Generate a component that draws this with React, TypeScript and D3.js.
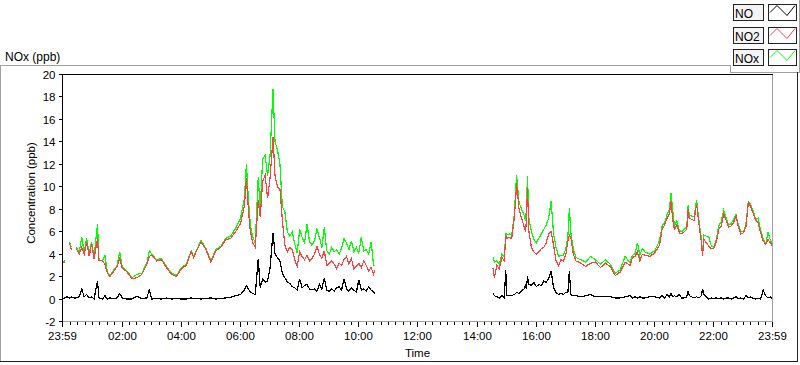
import React, { useEffect, useRef } from "react";
import * as d3 from "d3";

// minutes since midnight, -1 = 23:59 of the day before, 1439 = 23:59
const timesAM = [
  -1, 4, 8, 13, 17, 22, 27, 33, 38, 43, 48, 53, 58, 63, 70, 73, 80, 85, 90, 95,
  100, 110, 115, 120, 130, 140, 150, 160, 170, 175, 180, 190, 200, 210, 220, 230,
  240, 250, 260, 265, 270, 280, 290, 300, 310, 320, 330, 340, 350, 360, 368, 372,
  376, 380, 385, 390, 396, 400, 405, 410, 415, 420, 426, 430, 435, 440, 445, 450,
  455, 460, 465, 470, 475, 480, 485, 490, 495, 500, 505, 510, 515, 520, 525, 530,
  535, 540, 545, 550, 555, 560, 565, 570, 575, 580, 585, 590, 595, 600, 605, 610,
  615, 620, 625, 630, 632,
];
const noAM = [
  0.0, 0.1, 0.2, 0.1, 0.2, 0.1, 0.1, 0.2, 0.9, 0.2, 0.4, 0.1, 0.2, 0.0, 1.6, 0.1, 0.0, 0.3, 0.0, 0.1,
  0.05, 0.1, 0.5, 0.1, 0.0, 0.0, 0.25, 0.05, 0.1, 0.8, 0.0, 0.05, 0.0, 0.1, 0.0, 0.05,
  0.0, 0.0, 0.1, 0.05, 0.05, 0.0, 0.05, 0.1, 0.0, 0.05, 0.1, 0.15, 0.3, 0.4, 0.8, 1.2,
  0.9, 0.6, 0.5, 0.4, 3.6, 1.0, 1.8, 1.5, 1.6, 2.8, 5.9, 4.0, 3.7, 3.4, 2.3, 1.9,
  1.5, 1.4, 1.1, 1.0, 0.8, 1.8, 1.0, 1.2, 1.3, 0.9, 0.8, 0.9, 0.7, 1.3, 0.9, 1.9,
  0.8, 0.7, 0.9, 0.7, 1.0, 1.1, 0.8, 1.8, 0.9, 0.7, 1.0, 0.8, 0.6, 1.7, 0.8, 0.9,
  0.7, 1.1, 0.8, 0.6, 0.5,
];
const no2AM = [
  3.2, 3.3, null, 5.0, 4.4, null, 4.5, 4.0, 4.6, 4.0, 5.1, 3.8, 4.9, 3.6, 5.4, 3.4, 3.4, 3.1, 2.3, 2.0,
  2.3, 2.9, 3.6, 2.8, 2.4, 1.8, 1.9, 2.2, 3.1, 3.8, 3.9, 3.4, 3.5, 2.8, 2.2, 2.0,
  2.7, 3.0, 4.2, 3.7, 4.2, 5.1, 4.4, 3.3, 4.3, 4.6, 5.3, 5.4, 6.0, 6.7, 8.3, 10.8,
  8.0, 6.0, 5.0, 4.6, 8.8, 7.3, 10.5, 11.0, 9.0, 10.8, 14.4, 11.0, 10.0, 9.8, 7.0, 4.8,
  4.2, 4.6, 4.4, 3.5, 2.9, 4.2, 3.8, 3.5, 3.9, 3.4, 3.6, 4.0, 4.7, 4.0, 3.6, 4.3,
  3.0, 3.2, 3.4, 3.1, 2.7, 3.2, 3.0, 3.5, 3.8, 3.1, 3.6, 2.7, 2.9, 3.2, 2.8, 3.4,
  3.0, 2.5, 2.8, 2.2, 2.6,
];
const noxAM = [
  3.3, 3.4, null, 5.1, 4.6, null, 4.6, 4.2, 5.5, 4.2, 5.4, 4.0, 5.1, 3.7, 6.7, 3.5, 3.4, 3.9, 2.4, 2.1,
  2.4, 3.0, 4.2, 2.9, 2.5, 1.9, 2.2, 2.3, 3.2, 4.3, 4.0, 3.5, 3.6, 2.9, 2.3, 2.1,
  2.8, 3.1, 4.3, 3.8, 4.3, 5.2, 4.5, 3.4, 4.4, 4.7, 5.4, 5.6, 6.3, 7.2, 9.0, 12.0,
  8.9, 6.6, 5.5, 5.0, 10.9, 8.0, 12.5, 12.8, 11.0, 12.8, 18.7, 14.0, 13.3, 12.0, 8.2, 7.8,
  6.0, 5.6, 6.0, 4.9, 4.1, 6.2, 5.5, 5.0, 6.7, 5.1, 4.8, 5.2, 6.2, 5.5, 4.6, 6.4,
  4.3, 4.0, 4.6, 4.2, 4.4, 4.0, 4.5, 5.4, 5.0, 4.4, 5.2, 4.2, 4.6, 4.1, 5.5, 4.3,
  4.4, 4.0, 5.1, 3.0, 3.0,
];

const timesPM = [
  872, 875, 880, 885, 890, 895, 898, 900, 905, 910, 915, 918, 920, 925, 930, 935, 938, 940, 942, 945,
  950, 955, 960, 965, 970, 975, 980, 985, 990, 995, 1000, 1005, 1010, 1015, 1020, 1024, 1027, 1030,
  1035, 1040, 1050, 1060, 1070, 1080, 1090, 1100, 1110, 1120, 1130, 1140, 1150, 1155, 1160, 1165,
  1170, 1175, 1180, 1190, 1200, 1210, 1215, 1220, 1225, 1230, 1233, 1237, 1240, 1245, 1250, 1255,
  1260, 1265, 1268, 1270, 1280, 1285, 1290, 1295, 1297, 1300, 1305, 1310, 1315, 1320, 1325, 1330,
  1335, 1340, 1345, 1350, 1355, 1360, 1365, 1370, 1375, 1380, 1385, 1390, 1395, 1400, 1405, 1410,
  1415, 1420, 1425, 1430, 1435, 1439,
];
const noPM = [
  0.5, 0.3, 0.2, 0.1, 0.3, 0.1, 2.6, 0.3, 0.3, 0.3, 0.4, 0.5, 0.6, 0.5, 0.7, 0.9, 1.2, 0.9, 2.0, 1.3,
  1.2, 1.5, 1.1, 1.3, 1.2, 1.6, 1.5, 1.8, 2.5, 1.0, 0.6, 0.4, 0.5, 0.4, 0.6, 0.6, 2.5, 0.4,
  0.3, 0.3, 0.2, 0.3, 0.4, 0.2, 0.2, 0.2, 0.2, 0.1, 0.1, 0.2, 0.3, 0.1, 0.2, 0.1,
  0.2, 0.1, 0.1, 0.2, 0.2, 0.1, 0.3, 0.1, 0.4, 0.2, 0.5, 0.2, 0.3, 0.2, 0.4, 0.1,
  0.1, 0.2, 0.7, 0.3, 0.1, 0.2, 0.1, 0.3, 0.9, 0.4, 0.2, 0.0, 0.1, 0.05, 0.1, 0.05,
  0.1, 0.0, 0.1, 0.1, 0.0, 0.1, 0.2, 0.05, 0.1, 0.0, 0.3, 0.1, 0.2, 0.05, 0.0, 0.05,
  0.0, 0.8, 0.3, 0.1, 0.2, 0.0,
];
const no2PM = [
  2.8, 1.9, 3.0, 2.7, 3.7, 3.4, 5.6, 5.4, 5.5, 5.4, 7.1, 8.8, 10.3, 8.0, 7.2, 6.5, 6.0, 7.0, 9.9, 6.0,
  4.6, 4.2, 4.0, 4.2, 4.5, 4.6, 5.0, 5.8, 6.0, 4.8, 3.4, 3.0, 3.5, 3.4, 4.0, 5.2, 5.7, 5.5,
  4.0, 3.4, 3.2, 2.9, 3.2, 3.3, 2.8, 3.2, 2.9, 2.1, 2.4, 3.3, 3.0, 3.7, 3.8, 4.2,
  3.4, 4.0, 3.9, 3.8, 4.1, 4.8, 6.2, 6.6, 7.2, 7.6, 8.7, 7.0, 6.2, 6.6, 5.9, 5.8,
  6.0, 6.2, 8.0, 7.2, 7.0, 8.5, 6.6, 5.0, 3.8, 5.3, 5.0, 4.7, 4.5, 4.5, 5.1, 6.2,
  6.5, 7.6, 7.0, 6.4, 6.5, 6.8, 7.4, 6.4, 5.8, 5.9, 6.4, 8.6, 8.2, 7.6, 7.0, 6.8,
  5.9, 5.2, 4.9, 5.3, 5.0, 4.7,
];
const noxPM = [
  3.7, 3.3, 3.4, 3.1, 4.0, 3.7, 5.9, 5.7, 5.8, 5.7, 7.4, 9.6, 11.0, 8.6, 8.0, 7.5, 7.0, 8.0, 11.0, 7.2,
  6.0, 5.3, 5.0, 5.4, 5.8, 6.2, 6.6, 7.2, 8.7, 5.8, 4.6, 3.8, 3.9, 3.9, 4.5, 5.6, 8.1, 5.9,
  4.5, 3.7, 3.5, 3.3, 3.8, 3.5, 3.1, 3.5, 3.1, 2.3, 2.6, 3.8, 3.2, 3.9, 4.0, 5.0,
  3.9, 4.5, 4.2, 4.0, 4.3, 5.2, 6.5, 6.8, 7.5, 8.0, 9.4, 7.8, 6.5, 7.0, 6.1, 6.0,
  6.2, 6.4, 8.4, 7.5, 7.3, 8.85, 6.9, 5.3, 4.2, 5.7, 5.6, 5.5, 4.7, 4.6, 5.3, 6.5,
  6.9, 7.9, 7.2, 6.6, 6.7, 7.1, 7.5, 6.6, 6.0, 6.0, 6.6, 8.7, 8.4, 7.8, 7.1, 7.2,
  6.1, 5.4, 4.9, 5.9, 5.2, 4.8,
];

const seriesNames = ["NO", "NO2", "NOx"];
const seriesColors = ["#000000", "#ff4040", "#00ff00"];

const yTicks = [-2, 0, 2, 4, 6, 8, 10, 12, 14, 16, 18, 20];
const xTickMinutes = [-1, 120, 240, 360, 480, 600, 720, 840, 960, 1080, 1200, 1320, 1439];
const xTickLabels = ["23:59", "02:00", "04:00", "06:00", "08:00", "10:00", "12:00", "14:00", "16:00", "18:00", "20:00", "22:00", "23:59"];

const FONT = "'Liberation Sans', Arial, sans-serif";

const App = () => {
  const ref = useRef<SVGSVGElement | null>(null);

  useEffect(() => {
    const width = 800;
    const height = 365;
    const plot = { left: 62.5, right: 772.5, top: 74.5, bottom: 321.5 };

    const svg = d3.select(ref.current);
    svg.selectAll("*").remove();
    svg.attr("width", width).attr("height", height);

    const x = d3.scaleLinear().domain([-1, 1439]).range([plot.left, plot.right]);
    const y = d3.scaleLinear().domain([-2, 20]).range([plot.bottom, plot.top]);

    svg.append("rect").attr("width", width).attr("height", height).attr("fill", "#fff");

    // outer panel border
    const frame = svg.append("g").attr("fill", "none").attr("shape-rendering", "crispEdges");
    frame.append("path").attr("d", "M0.5,362 V65.5 H730.5 V72.5 H800").attr("stroke", "#a0a0a0");
    frame.append("path").attr("d", "M799.5,0 V72").attr("stroke", "#a0a0a0");
    frame.append("path").attr("d", "M797.5,72 V361.5 H0").attr("stroke", "#222");

    svg
      .append("text")
      .attr("x", 5)
      .attr("y", 61)
      .attr("font-family", FONT)
      .attr("font-size", 12)
      .attr("fill", "#000")
      .text("NOx (ppb)");

    // plot area
    svg
      .append("rect")
      .attr("x", plot.left)
      .attr("y", plot.top)
      .attr("width", plot.right - plot.left)
      .attr("height", plot.bottom - plot.top)
      .attr("fill", "#fff");

    const clip = svg.append("clipPath").attr("id", "plotclip");
    clip
      .append("rect")
      .attr("x", plot.left)
      .attr("y", plot.top)
      .attr("width", plot.right - plot.left)
      .attr("height", plot.bottom - plot.top);

    const segments = [
      { t: timesAM, vals: [noAM, no2AM, noxAM] },
      { t: timesPM, vals: [noPM, no2PM, noxPM] },
    ];

    const line = d3
      .line<[number, number | null]>()
      .defined(d => d[1] != null)
      .x(d => x(d[0]))
      .y(d => y(d[1] as number));

    const lines = svg.append("g").attr("clip-path", "url(#plotclip)");
    // NOx underneath, then NO2, then NO
    [2, 1, 0].forEach(si => {
      segments.forEach(seg => {
        const pts = seg.t.map((t, i) => [t, seg.vals[si][i]] as [number, number | null]);
        lines
          .append("path")
          .attr("d", line(pts))
          .attr("fill", "none")
          .attr("stroke", seriesColors[si])
          .attr("stroke-width", 1.2)
          .attr("shape-rendering", "crispEdges");
      });
    });

    // plot frame: top/left black, right/bottom grey
    const pf = svg.append("g").attr("fill", "none").attr("shape-rendering", "crispEdges");
    pf.append("path")
      .attr("d", `M${plot.right},${plot.top} V${plot.bottom} H${plot.left}`)
      .attr("stroke", "#a0a0a0");
    pf.append("path")
      .attr("d", `M${plot.left},${plot.bottom} V${plot.top} H${plot.right}`)
      .attr("stroke", "#000");

    // y axis
    const yAxis = svg.append("g").attr("shape-rendering", "crispEdges");
    yTicks.forEach(v => {
      const yy = Math.round(y(v) - 0.5) + 0.5;
      yAxis
        .append("line")
        .attr("x1", plot.left - 4)
        .attr("x2", plot.left)
        .attr("y1", yy)
        .attr("y2", yy)
        .attr("stroke", "#000");
      yAxis
        .append("text")
        .attr("x", plot.left - 7)
        .attr("y", yy)
        .attr("dy", "0.35em")
        .attr("text-anchor", "end")
        .attr("font-family", FONT)
        .attr("font-size", 11.5)
        .attr("fill", "#000")
        .text(v);
    });

    // x axis: quarter-hour minor ticks, labelled major ticks
    const xAxis = svg.append("g").attr("shape-rendering", "crispEdges");
    d3.range(15, 1439, 15)
      .filter(m => m % 120 !== 0)
      .forEach(m => {
        const xx = Math.round(x(m) - 0.5) + 0.5;
        xAxis
          .append("line")
          .attr("x1", xx)
          .attr("x2", xx)
          .attr("y1", plot.bottom + 0.5)
          .attr("y2", plot.bottom + 3.5)
          .attr("stroke", "#000");
      });
    xTickMinutes.forEach((m, i) => {
      const xx = Math.round(x(m) - 0.5) + 0.5;
      xAxis
        .append("line")
        .attr("x1", xx)
        .attr("x2", xx)
        .attr("y1", plot.bottom + 0.5)
        .attr("y2", plot.bottom + 5.5)
        .attr("stroke", "#000");
      xAxis
        .append("text")
        .attr("x", xx)
        .attr("y", 340)
        .attr("text-anchor", "middle")
        .attr("font-family", FONT)
        .attr("font-size", 11.5)
        .attr("fill", "#000")
        .text(xTickLabels[i]);
    });

    svg
      .append("text")
      .attr("x", (plot.left + plot.right) / 2)
      .attr("y", 357)
      .attr("text-anchor", "middle")
      .attr("font-family", FONT)
      .attr("font-size", 11.5)
      .attr("fill", "#000")
      .text("Time");

    svg
      .append("text")
      .attr("transform", `translate(35,${(plot.top + plot.bottom) / 2 - 5}) rotate(-90)`)
      .attr("text-anchor", "middle")
      .attr("font-family", FONT)
      .attr("font-size", 11.5)
      .attr("fill", "#000")
      .text("Concentration (ppb)");

    // legend
    const legend = svg.append("g").attr("shape-rendering", "crispEdges");
    seriesNames.forEach((name, i) => {
      const top = [4, 27, 49][i] + 0.5;
      legend
        .append("rect")
        .attr("x", 733.5)
        .attr("y", top)
        .attr("width", 30)
        .attr("height", 16)
        .attr("fill", "#f4f4f4")
        .attr("stroke", "#222");
      legend
        .append("text")
        .attr("x", 735)
        .attr("y", top + 13)
        .attr("font-family", FONT)
        .attr("font-size", 12)
        .attr("fill", "#000")
        .text(name);
      legend
        .append("rect")
        .attr("x", 768.5)
        .attr("y", top)
        .attr("width", 28)
        .attr("height", 16)
        .attr("fill", "#fff")
        .attr("stroke", "#222");
      legend
        .append("path")
        .attr("d", `M770,${top + 8} L777,${top + 1} L787,${top + 11} L795,${top + 1}`)
        .attr("fill", "none")
        .attr("stroke", seriesColors[i])
        .attr("shape-rendering", "auto");
    });
  }, []);

  return <svg ref={ref} style={{ position: "fixed", left: 0, top: 0, display: "block" }} />;
};

export default App;
